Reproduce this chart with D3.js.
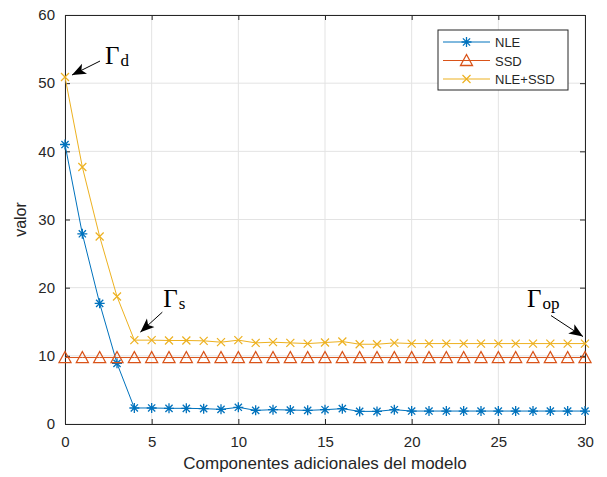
<!DOCTYPE html>
<html lang="es">
<head>
<meta charset="UTF-8">
<title>valor vs componentes</title>
<script src="https://d3js.org/d3.v7.min.js"></script>
<style>
  body { margin: 0; background: #fff; }
  text { font-family: "Liberation Sans", Arial, sans-serif; fill: #262626; }
  .ann { font-family: "Liberation Serif", "DejaVu Serif", serif; fill: #000; }
</style>
</head>
<body>
<div id="chart"></div>
<script>
// componentes adicionales 0..30
var comps = d3.range(0, 31);

var nle = [41.0, 27.9, 17.7, 8.9, 2.35, 2.35, 2.3, 2.3, 2.25, 2.15, 2.45,
           2.0, 2.1, 2.05, 2.0, 2.1, 2.25, 1.85, 1.85, 2.1, 1.9,
           1.9, 1.9, 1.9, 1.9, 1.9, 1.9, 1.9, 1.9, 1.9, 1.9];
var ssd = [9.75, 9.75, 9.75, 9.75, 9.75, 9.75, 9.75, 9.75, 9.75, 9.75, 9.75,
           9.75, 9.75, 9.75, 9.75, 9.75, 9.75, 9.75, 9.75, 9.75, 9.75,
           9.75, 9.75, 9.75, 9.75, 9.75, 9.75, 9.75, 9.75, 9.75, 9.75];
var nleSsd = [50.9, 37.7, 27.5, 18.7, 12.3, 12.3, 12.25, 12.25, 12.2, 12.0, 12.3,
              11.9, 12.0, 11.9, 11.8, 11.95, 12.1, 11.7, 11.7, 11.9, 11.8,
              11.8, 11.8, 11.8, 11.8, 11.8, 11.8, 11.8, 11.8, 11.8, 11.8];

var xTicks = [0, 5, 10, 15, 20, 25, 30];
var yTicks = [0, 10, 20, 30, 40, 50, 60];
var seriesNames = ["NLE", "SSD", "NLE+SSD"];
var seriesColors = ["#0072BD", "#D95319", "#EDB120"];

var W = 607, H = 477;
var margin = {top: 15, right: 22, bottom: 53, left: 65};
var width = W - margin.left - margin.right,
    height = H - margin.top - margin.bottom;

var svg = d3.select("#chart").append("svg")
    .attr("width", W).attr("height", H);

var defs = svg.append("defs");
defs.append("marker")
    .attr("id", "arrowhead")
    .attr("viewBox", "0 0 10 10")
    .attr("refX", 10).attr("refY", 5)
    .attr("markerWidth", 14).attr("markerHeight", 14)
    .attr("markerUnits", "userSpaceOnUse")
    .attr("orient", "auto")
  .append("path")
    .attr("d", "M0,1 L10,5 L0,9 L2.5,5 Z")
    .attr("fill", "#000");

var g = svg.append("g")
    .attr("transform", "translate(" + margin.left + "," + margin.top + ")");

var x = d3.scaleLinear().domain([0, 30]).range([0, width]);
var y = d3.scaleLinear().domain([0, 60]).range([height, 0]);

// grid
g.append("g").selectAll("line.gx").data(xTicks).enter().append("line")
    .attr("x1", function(d) { return x(d); }).attr("x2", function(d) { return x(d); })
    .attr("y1", 0).attr("y2", height)
    .attr("stroke", "#e3e3e3").attr("stroke-width", 1);
g.append("g").selectAll("line.gy").data(yTicks).enter().append("line")
    .attr("y1", function(d) { return y(d); }).attr("y2", function(d) { return y(d); })
    .attr("x1", 0).attr("x2", width)
    .attr("stroke", "#e3e3e3").attr("stroke-width", 1);

// axes (ticks inward, box)
var xAxis = g.append("g")
    .attr("transform", "translate(0," + height + ")")
    .call(d3.axisBottom(x).tickValues(xTicks).tickSizeInner(-5).tickSizeOuter(0).tickPadding(12));
var xTop = g.append("g")
    .call(d3.axisTop(x).tickValues(xTicks).tickSizeInner(-5).tickSizeOuter(0).tickFormat(""));
var yAxis = g.append("g")
    .call(d3.axisLeft(y).tickValues(yTicks).tickSizeInner(-5).tickSizeOuter(0).tickPadding(10));
var yRight = g.append("g")
    .attr("transform", "translate(" + width + ",0)")
    .call(d3.axisRight(y).tickValues(yTicks).tickSizeInner(-5).tickSizeOuter(0).tickFormat(""));

[xAxis, xTop, yAxis, yRight].forEach(function(a) {
  a.select(".domain").attr("stroke", "#262626").attr("stroke-width", 1);
  a.selectAll(".tick line").attr("stroke", "#262626");
  a.selectAll("text").style("font-size", "15px").attr("fill", "#262626")
    .style("font-family", "Liberation Sans, Arial, sans-serif");
});

// axis labels
g.append("text")
    .attr("x", width / 2).attr("y", height + 45)
    .attr("text-anchor", "middle")
    .style("font-size", "17px")
    .text("Componentes adicionales del modelo");
g.append("text")
    .attr("transform", "translate(-39," + (height / 2) + ") rotate(-90)")
    .attr("text-anchor", "middle")
    .style("font-size", "16px")
    .text("valor");

// marker drawers
function drawMarker(sel, kind, color) {
  if (kind === "star") {
    var r = 5;
    sel.append("path")
      .attr("d", "M" + (-r) + ",0L" + r + ",0M0," + (-r) + "L0," + r +
                 "M" + (-r * 0.72) + "," + (-r * 0.72) + "L" + (r * 0.72) + "," + (r * 0.72) +
                 "M" + (-r * 0.72) + "," + (r * 0.72) + "L" + (r * 0.72) + "," + (-r * 0.72))
      .attr("stroke", color).attr("stroke-width", 1.3).attr("fill", "none");
  } else if (kind === "tri") {
    sel.append("path")
      .attr("d", "M0,-6L6,5L-6,5Z")
      .attr("stroke", color).attr("stroke-width", 1.3).attr("fill", "none");
  } else {
    var s = 4;
    sel.append("path")
      .attr("d", "M" + (-s) + "," + (-s) + "L" + s + "," + s + "M" + (-s) + "," + s + "L" + s + "," + (-s))
      .attr("stroke", color).attr("stroke-width", 1.2).attr("fill", "none");
  }
}

var series = [
  {name: seriesNames[0], values: nle, color: seriesColors[0], marker: "star"},
  {name: seriesNames[1], values: ssd, color: seriesColors[1], marker: "tri"},
  {name: seriesNames[2], values: nleSsd, color: seriesColors[2], marker: "x"}
];

var line = d3.line()
    .x(function(d) { return x(d[0]); })
    .y(function(d) { return y(d[1]); });

series.forEach(function(s) {
  var pts = comps.map(function(c, i) { return [c, s.values[i]]; });
  g.append("path")
    .datum(pts)
    .attr("d", line)
    .attr("fill", "none")
    .attr("stroke", s.color)
    .attr("stroke-width", 1);
  g.append("g").selectAll("g").data(pts).enter().append("g")
    .attr("transform", function(d) { return "translate(" + x(d[0]) + "," + y(d[1]) + ")"; })
    .each(function() { drawMarker(d3.select(this), s.marker, s.color); });
});

// annotations: arrow from text towards a data point (offsets in px)
var annotations = [
  {main: "\u0393", sub: "d",  at: 0,  val: nleSsd[0],  tx: 40,  ty: -13, ax: 35,  ay: -16, hx: 7,  hy: -2},
  {main: "\u0393", sub: "s",  at: 4,  val: nleSsd[4],  tx: 29,  ty: -33, ax: 28,  ay: -28, hx: 6,  hy: -8},
  {main: "\u0393", sub: "op", at: 30, val: nleSsd[30], tx: -58, ty: -37, ax: -34, ay: -28, hx: -2, hy: -7}
];
annotations.forEach(function(a) {
  var px = x(a.at), py = y(a.val);
  var t = g.append("text").attr("class", "ann")
    .attr("x", px + a.tx).attr("y", py + a.ty);
  t.append("tspan").style("font-size", "25px").text(a.main);
  t.append("tspan").style("font-size", "17px").attr("dx", 1).attr("dy", 2).text(a.sub);
  g.append("line")
    .attr("x1", px + a.ax).attr("y1", py + a.ay)
    .attr("x2", px + a.hx).attr("y2", py + a.hy)
    .attr("stroke", "#000").attr("stroke-width", 1)
    .attr("marker-end", "url(#arrowhead)");
});

// legend
var lg = svg.append("g").attr("transform", "translate(438,30)");
lg.append("rect").attr("width", 130).attr("height", 60)
    .attr("fill", "#fff").attr("stroke", "#262626").attr("stroke-width", 1);
series.forEach(function(s, i) {
  var row = lg.append("g").attr("transform", "translate(0," + (12 + i * 18.5) + ")");
  row.append("line").attr("x1", 5).attr("x2", 52).attr("y1", 0).attr("y2", 0)
    .attr("stroke", s.color).attr("stroke-width", 1);
  var m = row.append("g").attr("transform", "translate(28.5,0)");
  drawMarker(m, s.marker, s.color);
  row.append("text").attr("x", 57).attr("y", 5)
    .style("font-size", "13px").attr("fill", "#000").text(s.name);
});
</script>
</body>
</html>
